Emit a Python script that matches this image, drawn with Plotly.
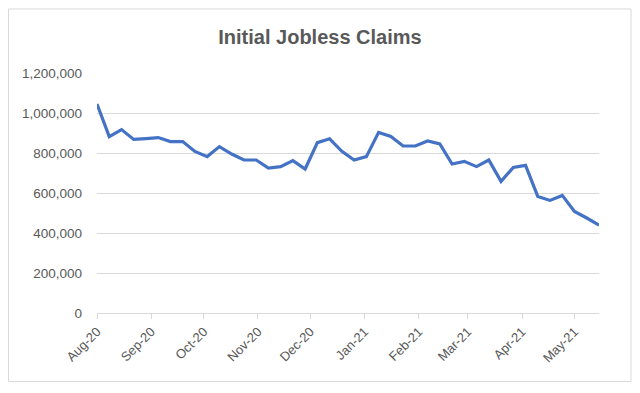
import plotly.graph_objects as go

# Week-ending dates (Saturdays)
dates = [
    "2020-08-01", "2020-08-08", "2020-08-15", "2020-08-22", "2020-08-29",
    "2020-09-05", "2020-09-12", "2020-09-19", "2020-09-26",
    "2020-10-03", "2020-10-10", "2020-10-17", "2020-10-24", "2020-10-31",
    "2020-11-07", "2020-11-14", "2020-11-21", "2020-11-28",
    "2020-12-05", "2020-12-12", "2020-12-19", "2020-12-26",
    "2021-01-02", "2021-01-09", "2021-01-16", "2021-01-23", "2021-01-30",
    "2021-02-06", "2021-02-13", "2021-02-20", "2021-02-27",
    "2021-03-06", "2021-03-13", "2021-03-20", "2021-03-27",
    "2021-04-03", "2021-04-10", "2021-04-17", "2021-04-24",
    "2021-05-01", "2021-05-08", "2021-05-15",
]

claims = [
    1045000, 882000, 917000, 868000, 872000,
    877000, 857000, 857000, 808000,
    782000, 832000, 795000, 765000, 765000,
    725000, 732000, 762000, 720000,
    852000, 871000, 808000, 765000,
    782000, 903000, 883000, 835000, 835000,
    860000, 845000, 745000, 758000,
    732000, 765000, 658000, 728000,
    738000, 583000, 563000, 588000,
    508000, 475000, 440000,
]

month_ticks = [
    "2020-08-01", "2020-09-01", "2020-10-01", "2020-11-01", "2020-12-01",
    "2021-01-01", "2021-02-01", "2021-03-01", "2021-04-01", "2021-05-01",
]
month_labels = ["Aug-20", "Sep-20", "Oct-20", "Nov-20", "Dec-20",
                "Jan-21", "Feb-21", "Mar-21", "Apr-21", "May-21"]

y_ticks = [0, 200000, 400000, 600000, 800000, 1000000, 1200000]

TEXT = "#595959"
GRID = "#D9D9D9"
FONT = "Liberation Sans, Arial, sans-serif"

# page has an 8px body margin, so the figure is 632x385
W, H = 632, 385
PL, PR, PT, PB = 89, 591, 64.7, 305.3  # plot area in figure pixels
PW, PH = PR - PL, PB - PT

fig = go.Figure(
    go.Scatter(
        x=dates, y=claims, mode="lines",
        line=dict(color="#4472C4", width=3.2),
        hoverinfo="skip",
    )
)

fig.update_layout(
    width=W, height=H,
    margin=dict(l=PL, r=W - PR, t=PT, b=H - PB),
    paper_bgcolor="white", plot_bgcolor="white",
    showlegend=False,
    font=dict(family=FONT, color=TEXT, size=13),
    title=dict(
        text="<b>Initial Jobless Claims</b>",
        x=312 / W, xref="container", xanchor="center",
        y=1 - 29 / H, yref="container", yanchor="middle",
        font=dict(size=20, color=TEXT, family=FONT),
    ),
    shapes=[
        dict(type="rect", xref="paper", yref="paper",
             x0=(0.5 - PL) / PW, x1=(623 - PL) / PW,
             y0=(PB - 374) / PH, y1=(PB - 0.5) / PH,
             line=dict(color=GRID, width=1), fillcolor="rgba(0,0,0,0)",
             layer="below"),
    ],
)

fig.update_xaxes(
    type="date",
    range=[dates[0], dates[-1]],
    tickvals=month_ticks, ticktext=month_labels,
    tickangle=-45,
    showgrid=False, zeroline=False,
    showline=True, linecolor=GRID, linewidth=1,
    ticks="outside", ticklen=5, tickcolor=GRID, tickwidth=1,
    tickfont=dict(size=13, color=TEXT),
)

fig.update_yaxes(
    range=[0, 1200000],
    tickvals=y_ticks,
    ticktext=[f"{v:,}" for v in y_ticks],
    showgrid=True, gridcolor=GRID, gridwidth=1,
    zeroline=False, showline=False,
    ticks="", ticklabelstandoff=14,
    tickfont=dict(size=13.5, color=TEXT),
)

fig.write_html("out.html")
